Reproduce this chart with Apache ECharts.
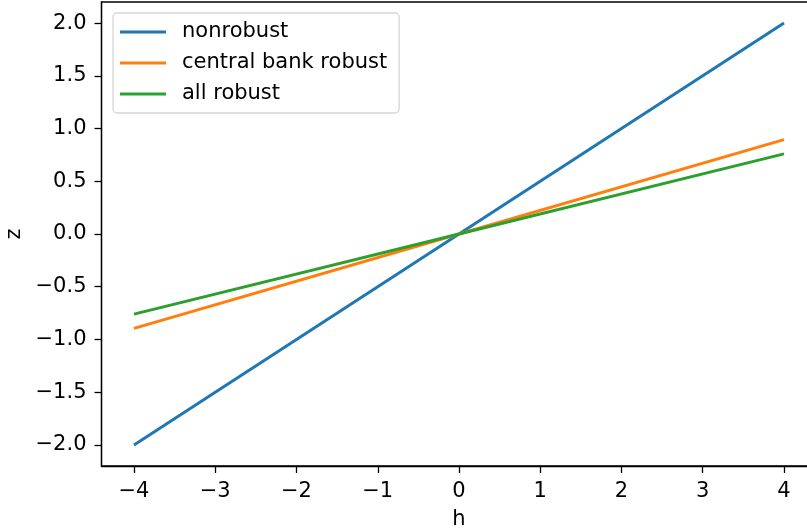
<!DOCTYPE html>
<html>
<head>
<meta charset="utf-8">
<script src="https://cdn.jsdelivr.net/npm/echarts@6/dist/echarts.min.js"></script>
<style>
  html, body { margin: 0; padding: 0; background: #fff; }
  #chart { width: 807px; height: 531px; }
</style>
</head>
<body>
<div id="chart"></div>
<script>
  // values
  const hValues = [-4, 0, 4];
  const nonrobust = [-2.0, 0, 2.0];
  const centralBankRobust = [-0.895, 0, 0.895];
  const allRobust = [-0.76, 0, 0.76];
  const xTicks = [-4, -3, -2, -1, 0, 1, 2, 3, 4];
  const yTicks = [-2.0, -1.5, -1.0, -0.5, 0.0, 0.5, 1.0, 1.5, 2.0];

  const FONT = 'DejaVu Sans';
  const minus = v => String(v).replace('-', '\u2212');

  const pairs = ys => hValues.map((h, i) => [h, ys[i]]);

  const lineSeries = (name, ys, color) => ({
    name: name,
    type: 'line',
    data: pairs(ys),
    symbol: 'none',
    lineStyle: { color: color, width: 3 },
    itemStyle: { color: color },
    emphasis: { disabled: true },
    animation: false
  });

  let myChart = echarts.init(document.getElementById('chart'));
  let option = {
    backgroundColor: '#fff',
    grid: {
      left: 101.5,
      top: 2,
      width: 715,
      height: 464,
      containLabel: false,
      outerBoundsMode: 'none',
      show: true,
      borderColor: '#000',
      borderWidth: 1.3,
      backgroundColor: 'transparent'
    },
    legend: {
      orient: 'vertical',
      left: 113,
      top: 13,
      padding: [7, 12, 7, 7],
      backgroundColor: '#fff',
      borderColor: '#d6d6d6',
      borderWidth: 1.3,
      borderRadius: 4,
      itemWidth: 46,
      itemHeight: 14,
      itemGap: 7,
      icon: 'path://M0,6L46,6L46,9L0,9Z',
      textStyle: {
        fontFamily: FONT,
        fontSize: 21,
        color: '#000',
        lineHeight: 24,
        padding: [0, 0, 0, 11]
      },
      data: ['nonrobust', 'central bank robust', 'all robust']
    },
    xAxis: {
      type: 'value',
      min: -4.4,
      max: 4.4,
      name: 'h',
      nameLocation: 'middle',
      nameGap: 43,
      nameTextStyle: { fontFamily: FONT, fontSize: 21, color: '#000' },
      axisLine: { show: true, onZero: false, lineStyle: { color: '#000', width: 1.3 } },
      axisTick: { show: true, length: 7, customValues: xTicks, lineStyle: { color: '#000', width: 1.3 } },
      axisLabel: {
        customValues: xTicks,
        fontFamily: FONT,
        fontSize: 21,
        color: '#000',
        margin: 15,
        formatter: v => minus(v)
      },
      splitLine: { show: false }
    },
    yAxis: {
      type: 'value',
      min: -2.2,
      max: 2.2,
      name: 'z',
      nameLocation: 'middle',
      nameGap: 73,
      nameRotate: 90,
      nameTextStyle: { fontFamily: FONT, fontSize: 21, color: '#000' },
      axisLine: { show: true, onZero: false, lineStyle: { color: '#000', width: 1.3 } },
      axisTick: { show: true, length: 7, customValues: yTicks, lineStyle: { color: '#000', width: 1.3 } },
      axisLabel: {
        customValues: yTicks,
        fontFamily: FONT,
        fontSize: 21,
        color: '#000',
        margin: 15,
        formatter: v => minus(v.toFixed(1))
      },
      splitLine: { show: false }
    },
    series: [
      lineSeries('nonrobust', nonrobust, '#1f77b4'),
      lineSeries('central bank robust', centralBankRobust, '#ff7f0e'),
      lineSeries('all robust', allRobust, '#2ca02c')
    ]
  };
  option && myChart.setOption(option);
</script>
</body>
</html>
